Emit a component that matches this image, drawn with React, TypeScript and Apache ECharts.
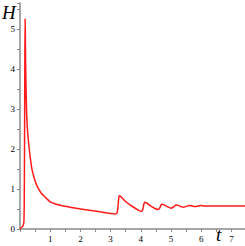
import React, { useEffect, useRef } from "react";
import * as echarts from "echarts";

const tValues = [
  0, 0.04, 0.08, 0.11, 0.13, 0.14, 0.15, 0.16, 0.168, 0.175, 0.185, 0.2, 0.22, 0.25, 0.3, 0.35, 0.4, 0.5, 0.6, 0.7,
  0.83, 1.0, 1.2, 1.4, 1.7, 2.0, 2.3, 2.65, 2.9, 3.1, 3.18, 3.22, 3.25, 3.27, 3.29, 3.35, 3.45, 3.6, 3.75, 3.9,
  4.03, 4.07, 4.1, 4.13, 4.2, 4.3, 4.45, 4.58, 4.63, 4.67, 4.71, 4.8, 4.9, 5.0, 5.08, 5.17, 5.25, 5.33, 5.41, 5.5,
  5.6, 5.7, 5.8, 5.9, 5.98, 6.1, 6.3, 6.6, 7.0, 7.45,
];
const hValues = [
  0, 0.03, 0.06, 0.1, 0.2, 0.6, 2.0, 4.2, 5.25, 5.0, 4.2, 3.5, 2.9, 2.45, 2.05, 1.72, 1.48, 1.2, 1.02, 0.9,
  0.8, 0.68, 0.62, 0.58, 0.54, 0.5, 0.47, 0.43, 0.4, 0.38, 0.375, 0.42, 0.6, 0.78, 0.83, 0.8, 0.72, 0.63, 0.55, 0.48,
  0.44, 0.5, 0.62, 0.67, 0.65, 0.59, 0.52, 0.49, 0.53, 0.6, 0.62, 0.59, 0.55, 0.52, 0.55, 0.6, 0.59, 0.56, 0.545, 0.565,
  0.59, 0.575, 0.56, 0.575, 0.585, 0.575, 0.572, 0.578, 0.577, 0.577,
];

const xLabelFormatter = (v: number) => (Number.isInteger(v) && v !== 0 ? String(v) : "");
const yLabelFormatter = (v: number) => (Number.isInteger(v) ? String(v) : "");

export default function App() {
  const ref = useRef<HTMLDivElement>(null);
  useEffect(() => {
    if (!ref.current) return;
    const chart = echarts.init(ref.current, undefined, { renderer: "svg" });
    const axisCommon = {
      axisLine: { lineStyle: { color: "#8a8a8a", width: 1.5 } },
      axisTick: { show: true, length: 3, lineStyle: { color: "#8a8a8a" } },
      minorTick: { show: true, splitNumber: 2, length: 3, lineStyle: { color: "#8a8a8a" } },
      splitLine: { show: false },
      minorSplitLine: { show: false },
    };
    chart.setOption({
      animation: false,
      grid: { left: 20, right: 0, top: 3, bottom: 17, containLabel: false },
      xAxis: {
        type: "value",
        min: 0,
        max: 7.45,
        interval: 1,
        ...axisCommon,
        axisLabel: {
          formatter: xLabelFormatter,
          fontFamily: "Liberation Serif",
          fontSize: 9,
          color: "#000",
          margin: 5,
          showMaxLabel: false,
        },
      },
      yAxis: {
        type: "value",
        min: 0,
        max: 5.65,
        interval: 1,
        ...axisCommon,
        axisLabel: {
          formatter: yLabelFormatter,
          fontFamily: "Liberation Serif",
          fontSize: 9,
          color: "#000",
          margin: 5,
          showMaxLabel: false,
        },
      },
      series: [
        {
          type: "line",
          data: tValues.map((t, i) => [t, hValues[i]]),
          showSymbol: false,
          smooth: 0.2,
          lineStyle: { color: "#ff1a1a", width: 1.5 },
        },
      ],
      graphic: [
        {
          type: "text",
          left: 2,
          top: 3,
          style: { text: "H", fontFamily: "Liberation Serif", fontStyle: "italic", fontSize: 19, fill: "#000" },
        },
        {
          type: "text",
          left: 216,
          top: 225,
          style: { text: "t", fontFamily: "Liberation Serif", fontStyle: "italic", fontSize: 19, fill: "#000" },
        },
      ],
    });
    return () => chart.dispose();
  }, []);
  return (
    <div
      ref={ref}
      style={{ position: "fixed", left: 0, top: 0, width: 245, height: 246, background: "#fff" }}
    />
  );
}
